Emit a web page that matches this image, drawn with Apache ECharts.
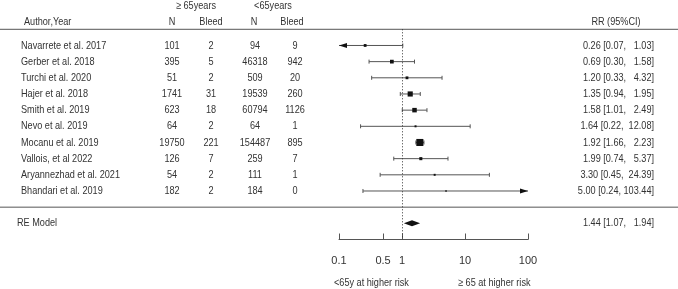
<!DOCTYPE html>
<html>
<head>
<meta charset="utf-8">
<script src="https://cdn.jsdelivr.net/npm/echarts@6/dist/echarts.min.js"></script>
<style>
  html, body { margin: 0; padding: 0; background: #fff; }
  #forest-chart { width: 678px; height: 289px; }
</style>
</head>
<body>
<div id="forest-chart"></div>
<script>
  // study table
  const studies = ['Navarrete et al. 2017', 'Gerber et al. 2018', 'Turchi et al. 2020', 'Hajer et al. 2018',
    'Smith et al. 2019', 'Nevo et al. 2019', 'Mocanu et al. 2019', 'Vallois, et al 2022',
    'Aryannezhad et al. 2021', 'Bhandari et al. 2019']
  const nOld = [101, 395, 51, 1741, 623, 64, 19750, 126, 54, 182]
  const bleedOld = [2, 5, 2, 31, 18, 2, 221, 7, 2, 2]
  const nYoung = [94, 46318, 509, 19539, 60794, 64, 154487, 259, 111, 184]
  const bleedYoung = [9, 942, 20, 260, 1126, 1, 895, 7, 1, 0]
  const rr = [0.26, 0.69, 1.20, 1.35, 1.58, 1.64, 1.92, 1.99, 3.30, 5.00]
  const lower = [0.07, 0.30, 0.33, 0.94, 1.01, 0.22, 1.66, 0.74, 0.45, 0.24]
  const upper = [1.03, 1.58, 4.32, 1.95, 2.49, 12.08, 2.23, 5.37, 24.39, 103.44]
  const weights = [5, 9, 5, 17, 13, 2.5, 32, 6, 2.5, 1.5] // approx. % weight (square size)
  const pooled = [1.44, 1.07, 1.94] // RE model: estimate, lower, upper
  const xTicks = [0.1, 0.5, 1, 10, 100]

  const X_MIN = 0.1
  const X_MAX = 100
  const RE_ROW = 11
  const TEXT = '#333'
  const LINE = '#555'

  // the reference text is narrow (R/Arial squeezed); use Liberation Sans Narrow if there, else squeeze
  function hasFont(name) {
    const ctx = document.createElement('canvas').getContext('2d')
    const s = 'Navarrete et al. 2017'
    ctx.font = '20px monospace'
    const a = ctx.measureText(s).width
    ctx.font = '20px "' + name + '", monospace'
    return ctx.measureText(s).width !== a
  }
  const NARROW = hasFont('Liberation Sans Narrow')
  const FAMILY = NARROW ? '"Liberation Sans Narrow", Arial, sans-serif' : '"Liberation Sans", Arial, sans-serif'
  const SQUEEZE = NARROW ? 1 : 0.83
  const FONT = '11px ' + FAMILY

  const fmt = (v) => v.toFixed(2)
  const ciText = (e, l, u) => fmt(e) + ' [' + fmt(l) + ', ' + fmt(u).padStart(6, ' ') + ']'

  function txt(x, y, s, align) {
    return {
      type: 'text',
      x: x,
      y: y,
      scaleX: SQUEEZE,
      style: { text: s, font: FONT, fill: TEXT, textAlign: align || 'center', textVerticalAlign: 'middle' },
    }
  }

  function renderStudy(params, api) {
    const row = api.value(0)
    const est = api.value(1)
    const lo = api.value(2)
    const hi = api.value(3)
    const w = api.value(4)
    const y = api.coord([1, row])[1]
    const x0 = api.coord([Math.max(lo, X_MIN), row])[0]
    const x1 = api.coord([Math.min(hi, X_MAX), row])[0]
    const xe = api.coord([est, row])[0]
    const lineStyle = { stroke: LINE, lineWidth: 1 }
    const children = [{ type: 'line', shape: { x1: x0, y1: y, x2: x1, y2: y }, style: lineStyle }]
    if (lo < X_MIN) {
      children.push({ type: 'polygon', shape: { points: [[x0, y], [x0 + 8, y - 2.5], [x0 + 8, y + 2.5]] }, style: { fill: '#111' } })
    } else {
      children.push({ type: 'line', shape: { x1: x0, y1: y - 2, x2: x0, y2: y + 2 }, style: lineStyle })
    }
    if (hi > X_MAX) {
      children.push({ type: 'polygon', shape: { points: [[x1, y], [x1 - 8, y - 2.5], [x1 - 8, y + 2.5]] }, style: { fill: '#111' } })
    } else {
      children.push({ type: 'line', shape: { x1: x1, y1: y - 2, x2: x1, y2: y + 2 }, style: lineStyle })
    }
    const s = Math.max(1.5, 1.25 * Math.sqrt(w))
    children.push({ type: 'rect', shape: { x: xe - s / 2, y: y - s / 2, width: s, height: s }, style: { fill: '#111' } })
    return { type: 'group', children: children }
  }

  function renderTable(params, api) {
    const i = params.dataIndex
    const y = api.coord([1, i])[1]
    return {
      type: 'group',
      children: [
        txt(21, y, studies[i], 'left'),
        txt(172, y, String(nOld[i])),
        txt(211, y, String(bleedOld[i])),
        txt(255, y, String(nYoung[i])),
        txt(295, y, String(bleedYoung[i])),
        txt(654, y, ciText(rr[i], lower[i], upper[i]), 'right'),
      ],
    }
  }

  function renderPooled(params, api) {
    const y = api.coord([1, RE_ROW])[1]
    const xl = api.coord([pooled[1], RE_ROW])[0]
    const xe = api.coord([pooled[0], RE_ROW])[0]
    const xr = api.coord([pooled[2], RE_ROW])[0]
    const sepY = api.coord([1, 10])[1]
    const headY = api.coord([1, -1])[1]
    const W = api.getWidth()
    return {
      type: 'group',
      children: [
        { type: 'polygon', shape: { points: [[xl, y], [xe, y - 3], [xr, y], [xe, y + 3]] }, style: { fill: '#111' } },
        { type: 'line', shape: { x1: 0, y1: headY, x2: W, y2: headY }, style: { stroke: LINE, lineWidth: 1 } },
        { type: 'line', shape: { x1: 0, y1: sepY, x2: W, y2: sepY }, style: { stroke: LINE, lineWidth: 1 } },
        txt(17, y, 'RE Model', 'left'),
        txt(654, y, ciText(pooled[0], pooled[1], pooled[2]), 'right'),
      ],
    }
  }

  const chart = echarts.init(document.getElementById('forest-chart'), null, { renderer: 'canvas' })

  const option = {
    backgroundColor: '#fff',
    animation: false,
    grid: { left: 339, width: 189, top: 29.3, height: 210.2 },
    xAxis: {
      type: 'log',
      logBase: 10,
      min: X_MIN,
      max: X_MAX,
      position: 'bottom',
      axisLine: { show: true, onZero: false, lineStyle: { color: LINE, width: 1 } },
      axisTick: { show: true, inside: true, length: 6, customValues: xTicks, lineStyle: { color: LINE } },
      axisLabel: {
        customValues: xTicks,
        margin: 16,
        color: TEXT,
        fontSize: 11,
        fontFamily: FAMILY,
        formatter: (v) => String(parseFloat(Number(v).toPrecision(3))),
      },
      splitLine: { show: false },
      minorTick: { show: false },
    },
    yAxis: { type: 'value', inverse: true, min: -1, max: 12, show: false },
    graphic: [
      txt(196, 6, '≥ 65years'),
      txt(273, 6, '<65years'),
      txt(24, 22, 'Author,Year', 'left'),
      txt(172, 22, 'N'),
      txt(211, 22, 'Bleed'),
      txt(254, 22, 'N'),
      txt(292, 22, 'Bleed'),
      txt(616, 22, 'RR (95%CI)'),
      txt(334, 283, '<65y at higher risk', 'left'),
      txt(458, 283, '≥ 65 at higher risk', 'left'),
    ],
    series: [
      {
        type: 'custom',
        renderItem: renderStudy,
        clip: false,
        encode: { x: [1, 2, 3], y: 0 },
        data: studies.map((s, i) => [i, rr[i], lower[i], upper[i], weights[i]]),
        markLine: {
          silent: true,
          symbol: 'none',
          label: { show: false },
          lineStyle: { color: '#333', type: [1, 2], width: 1 },
          data: [{ xAxis: 1 }],
        },
      },
      {
        type: 'custom',
        renderItem: renderTable,
        clip: false,
        encode: { x: 1, y: 0 },
        data: studies.map((s, i) => [i, 1]),
      },
      {
        type: 'custom',
        renderItem: renderPooled,
        clip: false,
        encode: { x: 1, y: 0 },
        data: [[RE_ROW, pooled[0]]],
      },
    ],
  }

  chart.setOption(option)
</script>
</body>
</html>
